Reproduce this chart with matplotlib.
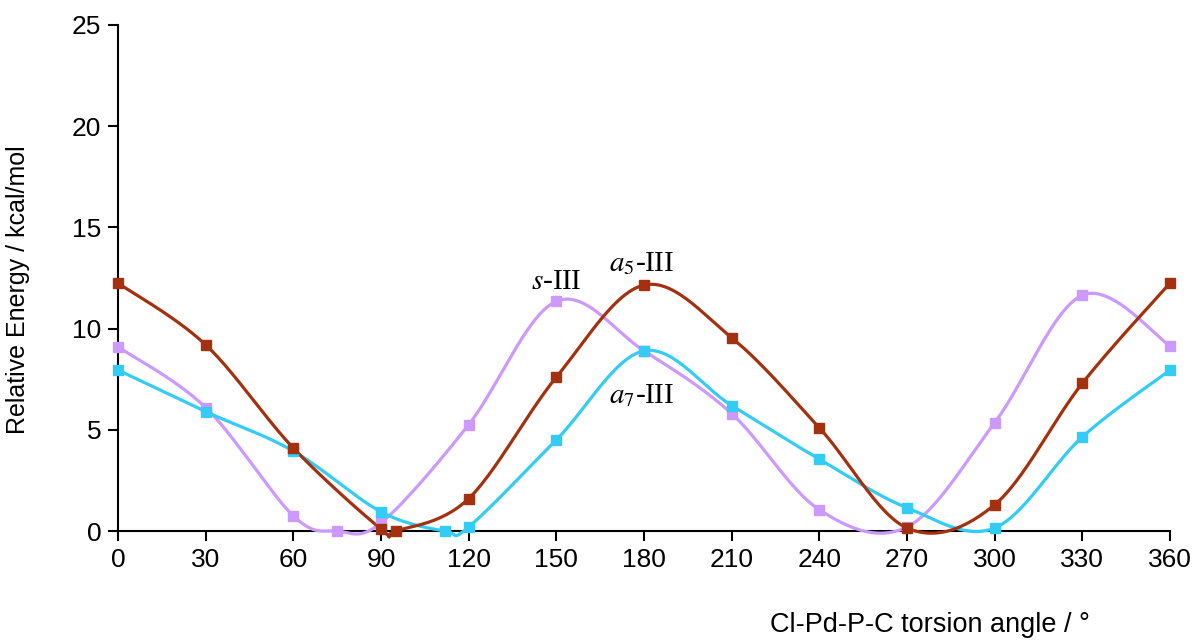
import matplotlib
matplotlib.use("Agg")
import matplotlib.pyplot as plt
import numpy as np

plt.rcParams['font.family'] = ['Liberation Sans', 'DejaVu Sans']
plt.rcParams['mathtext.fontset'] = 'stix'

# torsion angle (deg) / relative energy (kcal/mol)
a5_x = [0, 30, 60, 90, 95, 120, 150, 180, 210, 240, 270, 300, 330, 360]
a5_y = [12.25, 9.2, 4.1, 0.1, 0.0, 1.6, 7.6, 12.15, 9.55, 5.1, 0.15, 1.3, 7.3, 12.25]

s_x = [0, 30, 60, 75, 90, 120, 150, 180, 210, 240, 270, 300, 330, 360]
s_y = [9.1, 6.1, 0.75, 0.0, 0.4, 5.25, 11.35, 8.9, 5.8, 1.05, 0.2, 5.35, 11.65, 9.15]

a7_x = [0, 30, 60, 90, 112, 120, 150, 180, 210, 240, 270, 300, 330, 360]
a7_y = [7.95, 5.9, 3.95, 0.95, 0.0, 0.2, 4.5, 8.9, 6.2, 3.55, 1.15, 0.15, 4.65, 7.95]

xticks = list(range(0, 361, 30))
yticks = [0, 5, 10, 15, 20, 25]


def smooth(xs, ys, n=30):
    # excel-like smoothed line: cubic bezier through the points
    p = np.column_stack([xs, ys]).astype(float)
    out = []
    for i in range(len(p) - 1):
        p0 = p[i - 1] if i > 0 else p[i]
        p1 = p[i]
        p2 = p[i + 1]
        p3 = p[i + 2] if i + 2 < len(p) else p[i + 1]
        c1 = p1 + (p2 - p0) / 6
        c2 = p2 - (p3 - p1) / 6
        t = np.linspace(0, 1, n)[:, None]
        seg = ((1 - t) ** 3 * p1 + 3 * (1 - t) ** 2 * t * c1
               + 3 * (1 - t) * t ** 2 * c2 + t ** 3 * p2)
        out.append(seg if i == 0 else seg[1:])
    seg = np.vstack(out)
    return seg[:, 0], seg[:, 1]


fig = plt.figure(figsize=(12, 6.4), dpi=100)
ax = fig.add_axes([0.0983, 0.1703, 0.8767, 0.7907])

series = [
    (s_x, s_y, '#CC99FF'),
    (a7_x, a7_y, '#33CCF5'),
    (a5_x, a5_y, '#A3310F'),
]
for xs, ys, c in series:
    sx, sy = smooth(xs, ys)
    ax.plot(sx, sy, color=c, lw=2.3, clip_on=False, zorder=3)
    ax.plot(xs, ys, ls='none', marker='s', ms=6.5, color=c, clip_on=False, zorder=4)

ax.set_xlim(0, 360)
ax.set_ylim(0, 25)
ax.set_xticks(xticks)
ax.set_yticks(yticks)
ax.tick_params(direction='out', length=7, width=1.5, labelsize=19, pad=5)
for side in ['top', 'right']:
    ax.spines[side].set_visible(False)
for side in ['left', 'bottom']:
    ax.spines[side].set_linewidth(1.5)

ax.set_ylabel('Relative Energy / kcal/mol', fontsize=18)
ax.yaxis.set_label_coords(-0.0837, 0.476)
ax.text(0.772, -0.185, 'Cl-Pd-P-C torsion angle / °', transform=ax.transAxes,
        fontsize=19.5, ha='center', va='center')

tfont = dict(fontsize=21, family=['Liberation Serif', 'DejaVu Serif'], ha='center', va='center')
ax.text(150, 12.3, r'$\mathit{s}$-III', **tfont)
ax.text(179, 13.2, r'$\mathit{a}_{\mathit{5}}$-III', **tfont)
ax.text(179.3, 6.7, r'$\mathit{a}_{\mathit{7}}$-III', **tfont)

fig.savefig('out.png', dpi=100)
